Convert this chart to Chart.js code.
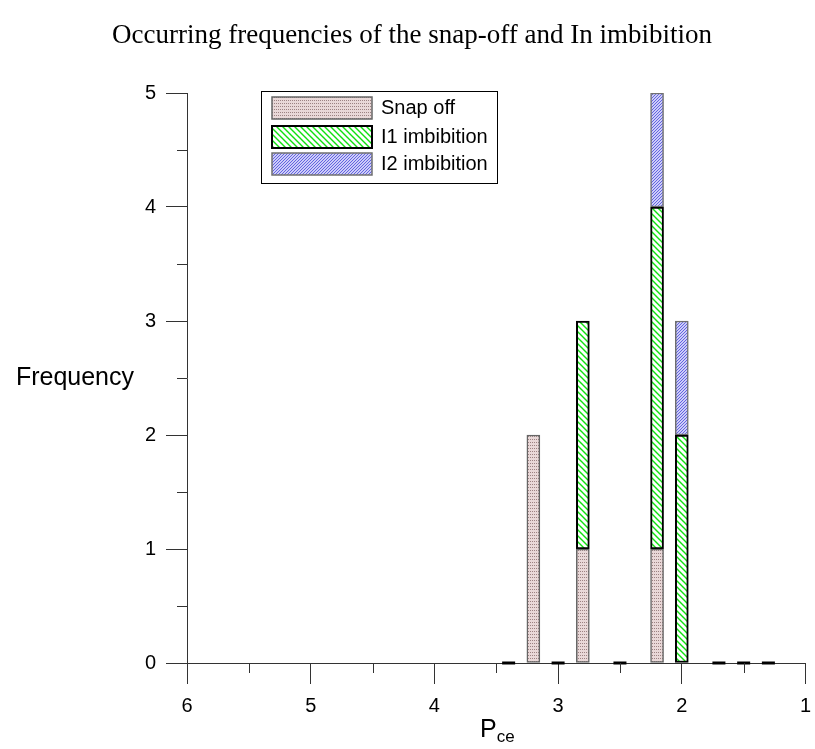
<!DOCTYPE html>
<html>
<head>
<meta charset="utf-8">
<title>Occurring frequencies of the snap-off and In imbibition</title>
<script src="https://cdn.jsdelivr.net/npm/chart.js@4.4.1/dist/chart.umd.min.js"></script>
<style>
  html, body { margin: 0; padding: 0; background: #fff; }
  #wrap { width: 815px; height: 749px; position: relative; }
</style>
</head>
<body>
<div id="wrap"><canvas id="freqChart" width="815" height="749"></canvas></div>
<script>
// ---- data ----
const bins = [3.4, 3.2, 3.0, 2.8, 2.5, 2.2, 2.0, 1.7, 1.5, 1.3];   // Pce bin centres
const snapOff = [0, 2, 0, 1, 0, 1, 0, 0, 0, 0];
const i1Imbibition = [0, 0, 0, 2, 0, 3, 2, 0, 0, 0];
const i2Imbibition = [0, 0, 0, 0, 0, 1, 1, 0, 0, 0];
const xTicks = [6, 5, 4, 3, 2, 1];
const yTicks = [0, 1, 2, 3, 4, 5];

const chartTitle = 'Occurring frequencies of the snap-off and In imbibition';
const yTitle = 'Frequency';

const SANS = '"Liberation Sans", Arial, sans-serif';

// ---- fill patterns ----
function makePattern(w, h, paint) {
  const c = document.createElement('canvas');
  c.width = w; c.height = h;
  const g = c.getContext('2d');
  paint(g, w, h);
  return g.createPattern(c, 'repeat');
}

// dotted pinkish fill, rows of dots
const snapFill = makePattern(2, 3, (g, w, h) => {
  g.fillStyle = '#e9d8d8';
  g.fillRect(0, 0, w, h);
  g.fillStyle = '#9c8282';
  g.fillRect(0, 1, 1, 1);
});

// green "\" hatch
const i1Fill = makePattern(6, 6, (g, s) => {
  g.fillStyle = '#ffffff';
  g.fillRect(0, 0, s, s);
  g.strokeStyle = '#10e010';
  g.lineWidth = 1.4;
  g.beginPath();
  g.moveTo(-1, -1); g.lineTo(s + 1, s + 1);
  g.moveTo(-1, s - 1); g.lineTo(1, s + 1);
  g.moveTo(s - 1, -1); g.lineTo(s + 1, 1);
  g.stroke();
});

// fine blue "/" hatch
const i2Fill = makePattern(3, 3, (g, s) => {
  g.fillStyle = '#cdcdf8';
  g.fillRect(0, 0, s, s);
  g.fillStyle = '#6464e0';
  g.fillRect(2, 0, 1, 1);
  g.fillRect(1, 1, 1, 1);
  g.fillRect(0, 2, 1, 1);
});

const toPoints = vals => bins.map((b, i) => ({ x: b, y: vals[i] }));
const emptyBins = bins.filter((b, i) => snapOff[i] + i1Imbibition[i] + i2Imbibition[i] === 0);

// ---- extra drawing: minor ticks, titles, legend ----
const decorPlugin = {
  id: 'decor',
  afterDraw(chart) {
    const { ctx, chartArea, scales } = chart;
    const x = scales.x, y = scales.y;
    ctx.save();

    // minor ticks
    ctx.strokeStyle = '#333';
    ctx.lineWidth = 1;
    ctx.beginPath();
    for (let v = x.min + 0.5; v < x.max; v += 1) {
      const px = Math.round(x.getPixelForValue(v)) + 0.5;
      ctx.moveTo(px, chartArea.bottom);
      ctx.lineTo(px, chartArea.bottom + 10);
    }
    for (let v = y.min + 0.5; v < y.max; v += 1) {
      const py = Math.round(y.getPixelForValue(v)) + 0.5;
      ctx.moveTo(chartArea.left - 10, py);
      ctx.lineTo(chartArea.left, py);
    }
    ctx.stroke();

    // chart title
    ctx.fillStyle = '#000';
    ctx.font = '27px "Liberation Serif", "Times New Roman", serif';
    ctx.textAlign = 'center';
    ctx.textBaseline = 'middle';
    ctx.fillText(chartTitle, 412, 36);

    // y title, horizontal
    ctx.font = '25px ' + SANS;
    ctx.textAlign = 'right';
    ctx.fillText(yTitle, 134, y.getPixelForValue(2.5));

    // x title P with subscript ce
    ctx.textAlign = 'left';
    ctx.textBaseline = 'alphabetic';
    ctx.font = '25px ' + SANS;
    ctx.fillText('P', 480, 737);
    const pw = ctx.measureText('P').width;
    ctx.font = '17px ' + SANS;
    ctx.fillText('ce', 480 + pw, 742);

    // legend
    const lx = 261, ly = 91, lw = 236, lh = 92;
    ctx.strokeStyle = '#000';
    ctx.lineWidth = 1;
    ctx.strokeRect(lx + 0.5, ly + 0.5, lw, lh);
    const rows = [97, 126, 153];
    chart.data.datasets.slice(0, 3).forEach((ds, i) => {
      const sy = rows[i];
      ctx.fillStyle = ds.backgroundColor;
      ctx.fillRect(272, sy, 100, 22);
      ctx.strokeStyle = ds.borderColor;
      ctx.lineWidth = ds.borderWidth;
      ctx.strokeRect(272, sy, 100, 22);
      ctx.fillStyle = '#000';
      ctx.font = '20px ' + SANS;
      ctx.textBaseline = 'middle';
      ctx.fillText(ds.label, 381, sy + 11);
    });

    ctx.restore();
  }
};

const barBase = {
  type: 'bar',
  barThickness: 13,
  borderSkipped: false,
  stack: 'freq'
};

new Chart(document.getElementById('freqChart'), {
  type: 'bar',
  data: {
    datasets: [
      { ...barBase, label: 'Snap off', data: toPoints(snapOff),
        backgroundColor: snapFill, borderColor: '#666666', borderWidth: 1.5 },
      { ...barBase, label: 'I1 imbibition', data: toPoints(i1Imbibition),
        backgroundColor: i1Fill, borderColor: '#000000', borderWidth: 2 },
      { ...barBase, label: 'I2 imbibition', data: toPoints(i2Imbibition),
        backgroundColor: i2Fill, borderColor: '#707070', borderWidth: 1.5 },
      { type: 'scatter', label: 'empty bins', stack: 'empty',
        data: emptyBins.map(b => ({ x: b, y: 0 })),
        pointStyle: 'line', radius: 6.5, borderColor: '#000', borderWidth: 3,
        clip: false }
    ]
  },
  options: {
    responsive: false,
    animation: false,
    events: [],
    layout: { padding: { left: 0, top: 93, right: 6, bottom: 0 } },
    plugins: { legend: { display: false }, title: { display: false }, tooltip: { enabled: false } },
    scales: {
      x: {
        type: 'linear',
        reverse: true,
        min: 1, max: 6,
        offset: false,
        afterBuildTicks: s => { s.ticks = xTicks.map(v => ({ value: v })); },
        afterFit: s => { s.height = 86; s.paddingLeft = 0; s.paddingRight = 0; },
        grid: { drawOnChartArea: false, offset: false, tickLength: 21, color: '#333' },
        border: { color: '#333' },
        ticks: { color: '#000', padding: 10, font: { family: SANS, size: 20 } }
      },
      y: {
        stacked: true,
        min: 0, max: 5,
        afterBuildTicks: s => { s.ticks = yTicks.map(v => ({ value: v })); },
        afterFit: s => { s.width = 187; s.paddingTop = 0; s.paddingBottom = 0; },
        grid: { drawOnChartArea: false, tickLength: 21, color: '#333' },
        border: { color: '#333' },
        ticks: { color: '#000', padding: 10, font: { family: SANS, size: 20 } }
      }
    }
  },
  plugins: [decorPlugin]
});
</script>
</body>
</html>
